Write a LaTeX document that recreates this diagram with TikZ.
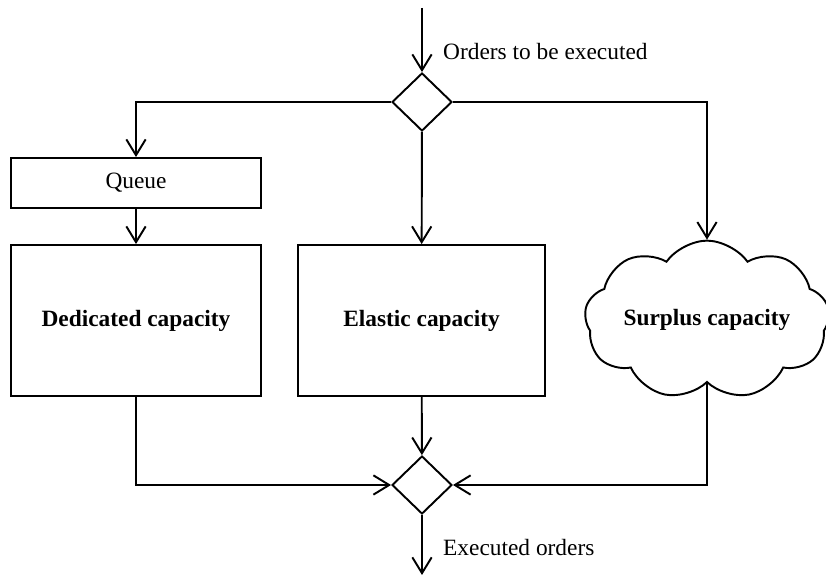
\documentclass[tikz,border=0pt]{standalone}
\usepackage{fontspec}
\setmainfont{Liberation Serif}
\usepackage{tikz}
\usetikzlibrary{shapes,shapes.geometric,shapes.symbols,arrows,positioning,calc,arrows.meta}

\tikzset{
    flow/.style={line width=1.1pt, -{Straight Barb[length=9pt,width=11pt,line width=1.1pt]}},
    gate/.style={draw, line width=1.1pt, diamond, inner sep=0pt, minimum width=1.2cm, minimum height=1.16cm},
    stage/.style={draw, line width=1.1pt, rectangle, inner sep=2pt},
    every node/.style={font=\fontsize{13.3}{16}\selectfont}
}

\begin{document}
\begin{tikzpicture}[x=0.02cm, y=-0.02cm]
    \useasboundingbox (0,0) rectangle (826,577);

    % Decision points
    \node[gate] (split) at (422,102) {};
    \node[gate] (merge) at (422,485) {};

    % Capacities
    \node[stage, minimum width=5cm, minimum height=1cm] (queue) at (136,183) {Queue};
    \node[stage, minimum width=5cm, minimum height=3.02cm] (dedicated) at (136,320.5) {\textbf{Dedicated capacity}};
    \node[stage, minimum width=4.94cm, minimum height=3.02cm] (elastic) at (421.5,320.5) {\textbf{Elastic capacity}};
    \node[draw, line width=1.1pt, cloud, cloud puffs=9, cloud puff arc=110, aspect=1.9, inner sep=0pt, minimum width=4.9cm, minimum height=2.5cm] (surplus) at (707,320) {\textbf{Surplus capacity}};

    % In and out
    \coordinate (in) at (422,8);
    \coordinate (out) at (422,575);
    \node[anchor=west] (inlabel) at (437,52) {Orders to be executed};
    \node[anchor=west] (outlabel) at (437,548) {Executed orders};

    % Connectors
    \draw[flow] (in) -- (split.north);
    \draw[flow] (split.west) -| (queue.north);
    \draw[flow] (queue) -- (dedicated);
    \draw[flow] (split) -- (elastic);
    \draw[flow] (split.east) -| (surplus.north);
    \draw[flow] (dedicated.south) |- (merge.west);
    \draw[flow] (elastic) -- (merge);
    \draw[flow] (surplus.south) |- (merge.east);
    \draw[flow] (merge) -- (out);

\end{tikzpicture}
\end{document}
